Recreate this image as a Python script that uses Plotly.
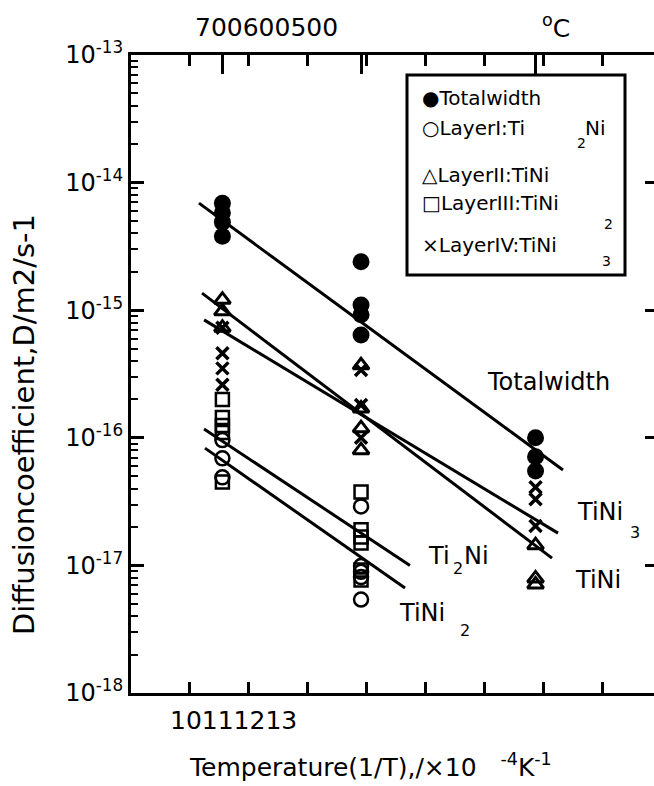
import numpy as np
import plotly.graph_objects as go

# ---------------- data ----------------
temps_C = [700, 600, 500]                      # annealing temperatures
inv_T = [1e4 / (t + 273.15) for t in temps_C]  # 1/T in 1e-4 K^-1

# diffusion coefficients (m2/s) read at each temperature
total_D = [[6.9e-15, 5.8e-15, 4.9e-15, 3.8e-15],
           [2.4e-15, 1.1e-15, 9.2e-16, 6.4e-16],
           [1.0e-16, 7.1e-17, 5.5e-17]]
layer1_D = [[9.6e-17, 6.9e-17, 4.9e-17],
            [2.9e-17, 9.9e-18, 8.9e-18, 8.1e-18, 5.4e-18],
            []]
layer2_D = [[1.21e-15, 9.8e-16, 7.3e-16],
            [3.7e-16, 1.7e-16, 1.19e-16, 8.0e-17],
            [1.44e-17, 7.9e-18, 7.1e-18]]
layer3_D = [[2.0e-16, 1.44e-16, 1.25e-16, 1.1e-16, 4.5e-17],
            [3.76e-17, 1.9e-17, 1.67e-17, 1.5e-17, 9.2e-18, 7.7e-18],
            []]
layer4_D = [[7.3e-16, 4.6e-16, 3.5e-16, 2.6e-16],
            [3.4e-16, 1.81e-16, 1.0e-16],
            [4.1e-17, 3.3e-17, 2.04e-17]]

# fitted Arrhenius lines (end points)
line_total_x = [10.077, 13.167]
line_total_D = [6.9e-15, 5.6e-17]
line_tini_x = [10.103, 13.074]
line_tini_D = [1.36e-15, 1.14e-17]
line_tini3_x = [10.120, 13.125]
line_tini3_D = [8.4e-16, 1.79e-17]
line_ti2ni_x = [10.120, 11.868]
line_ti2ni_D = [1.17e-16, 1.0e-17]
line_tini2_x = [10.128, 11.826]
line_tini2_D = [8.3e-17, 6.65e-18]

x_ticks = [10.0, 10.5, 11.0, 11.5, 12.0, 12.5, 13.0, 13.5]
y_exps = [-18, -17, -16, -15, -14, -13]

# ---------------- layout helpers ----------------
W, H = 654, 786
L, R, T, B = 131, 654, 55, 693
FONT = "DejaVu Sans"


def xp(px):
    return (px - L) / (R - L)


def yp(py):
    return (B - py) / (B - T)


def flat(groups):
    xs, ys = [], []
    for xv, g in zip(inv_T, groups):
        xs += [xv] * len(g)
        ys += list(g)
    return xs, ys


fig = go.Figure()

# fit lines
for lx, ly in [(line_total_x, line_total_D), (line_tini_x, line_tini_D),
               (line_tini3_x, line_tini3_D), (line_ti2ni_x, line_ti2ni_D),
               (line_tini2_x, line_tini2_D)]:
    fig.add_trace(go.Scatter(x=lx, y=ly, mode="lines",
                             line=dict(color="black", width=3),
                             showlegend=False, hoverinfo="skip"))

series = [
    (layer3_D, "square-open", 13, 2.5),
    (layer1_D, "circle-open", 14, 2.5),
    (layer2_D, "triangle-up-open", 14, 3),
    (layer4_D, "x-thin-open", 12, 3.5),
    (total_D, "circle", 17, 0),
]
for groups, sym, size, lw in series:
    xs, ys = flat(groups)
    fig.add_trace(go.Scatter(x=xs, y=ys, mode="markers",
                             marker=dict(symbol=sym, size=size, color="black",
                                         line=dict(color="black", width=lw)),
                             showlegend=False))

xrange = [9.5, 9.5 + (R - L) / 117.8]
minor_vals = [k * 10.0 ** e for e in range(-18, -13) for k in range(2, 10)]

fig.update_layout(
    width=W, height=H,
    margin=dict(l=L, r=W - R, t=T, b=H - B),
    paper_bgcolor="white", plot_bgcolor="white",
    font=dict(family=FONT, color="black", size=24),
    showlegend=False,
    xaxis=dict(range=xrange, tickvals=x_ticks, ticks="inside", ticklen=11,
               tickwidth=2.5, tickcolor="black", showticklabels=False,
               showline=True, linewidth=3, linecolor="black", showgrid=False,
               zeroline=False),
    xaxis2=dict(range=xrange, overlaying="x", side="top", anchor="y",
                tickvals=x_ticks, ticks="inside", ticklen=11, tickwidth=2.5,
                tickcolor="black", showticklabels=False, showline=True,
                linewidth=3, linecolor="black", showgrid=False, zeroline=False),
    xaxis3=dict(range=xrange, overlaying="x", side="top", anchor="y",
                tickvals=inv_T, ticks="inside", ticklen=19, tickwidth=2.5,
                tickcolor="black", showticklabels=False, showline=False,
                showgrid=False, zeroline=False),
    yaxis=dict(type="log", range=[-18, -13],
               tickvals=[10.0 ** e for e in y_exps],
               ticktext=[f"10<sup>{e}</sup>" for e in y_exps],
               ticks="inside", ticklen=13, tickwidth=2.5, tickcolor="black",
               tickfont=dict(family=FONT, size=24, color="black"),
               minor=dict(ticks="inside", ticklen=7, tickwidth=2,
                          tickcolor="black", tickvals=minor_vals, showgrid=False),
               showline=True, linewidth=3, linecolor="black", showgrid=False,
               zeroline=False),
    yaxis2=dict(type="log", range=[-18, -13], overlaying="y", side="right",
                anchor="x", tickvals=[10.0 ** e for e in y_exps], ticks="inside",
                ticklen=9, tickwidth=2.5, tickcolor="black",
                showticklabels=False, showline=False, showgrid=False,
                zeroline=False),
)

# keep the extra axes alive with invisible anchors
fig.add_trace(go.Scatter(x=[inv_T[0]], y=[total_D[0][0]], xaxis="x2", yaxis="y2",
                         mode="markers", marker=dict(opacity=0), showlegend=False,
                         hoverinfo="skip"))
fig.add_trace(go.Scatter(x=[inv_T[0]], y=[total_D[0][0]], xaxis="x3", yaxis="y",
                         mode="markers", marker=dict(opacity=0), showlegend=False,
                         hoverinfo="skip"))

ann = []


def text(s, px, py, size=24, xanchor="left", **kw):
    ann.append(dict(text=s, x=xp(px), y=yp(py), xref="paper", yref="paper",
                    xanchor=xanchor, yanchor="middle", showarrow=False,
                    font=dict(family=FONT, size=size, color="black"), **kw))


# tick label strings (as in the original, packed together)
text("".join(str(int(v)) for v in x_ticks if float(v).is_integer()), 168, 720, 25)
text("".join(str(t) for t in temps_C), 193, 28, 25)
text("<sup>o</sup>C", 540, 26, 25)

# axis titles
text("Temperature(1/T),/×10   <sup>-4</sup>K<sup>-1</sup>", 187, 765, 25)
ann.append(dict(text="Diffusioncoefficient,D/m2/s-1", x=xp(24), y=yp(425),
                xref="paper", yref="paper", textangle=-90, showarrow=False,
                xanchor="center", yanchor="middle",
                font=dict(family=FONT, size=29, color="black")))

# line labels
text("Totalwidth", 485, 382, 24)
text("TiNi", 575, 512, 24)
text("3", 628, 532, 16)
text("TiNi", 573, 580, 24)
text("Ti", 426, 556, 24)
text("2", 451, 568, 16)
text("Ni", 462, 556, 24)
text("TiNi", 397, 613, 24)
text("2", 458, 630, 16)

# legend box
fig.add_shape(type="rect", xref="paper", yref="paper",
              x0=xp(407), x1=xp(625), y0=yp(75), y1=yp(275),
              line=dict(color="black", width=3), fillcolor="white", layer="above")
text("●Totalwidth", 420, 98, 20)
text("○LayerI:Ti", 420, 128, 20)
text("2", 575, 143, 14)
text("Ni", 583, 128, 20)
text("△LayerII:TiNi", 420, 175, 20)
text("□LayerIII:TiNi", 420, 203, 20)
text("2", 602, 224, 14)
text("×LayerIV:TiNi", 420, 245, 20)
text("3", 600, 261, 14)

fig.update_layout(annotations=ann)
fig.write_html("out.html")
